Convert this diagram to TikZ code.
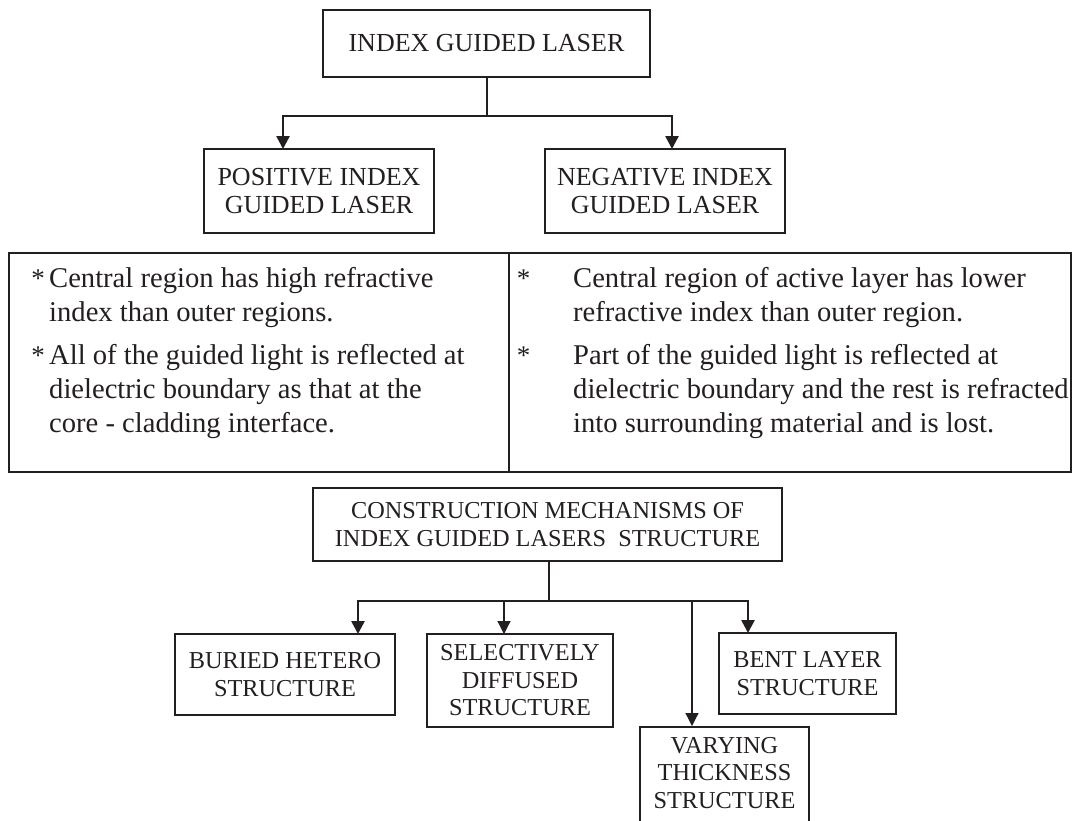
\documentclass[tikz,border=0pt]{standalone}
\usepackage{fontspec}
\setmainfont{Liberation Serif}
\usetikzlibrary{arrows.meta}
\definecolor{ink}{HTML}{231F20}
\begin{document}
\begin{tikzpicture}[x=1pt,y=-1pt,
  box/.style={draw=ink, line width=2pt, rectangle, inner sep=0pt, align=center, text=ink},
  topfont/.style={font=\fontsize{26}{27.5}\selectfont},
  lowfont/.style={font=\fontsize{24.3}{27.5}\selectfont},
  conn/.style={line width=2.6pt, draw=ink},
  thinconn/.style={line width=1.2pt, draw=ink},
  tip/.style={-{Triangle[length=13pt,width=13pt]}},
  cell/.style={draw=ink, line width=2pt, rectangle, inner sep=0pt},
  bodytext/.style={font=\fontsize{28.6}{34}\selectfont, anchor=base west, inner sep=0pt, text=ink},
  star/.style={font=\fontsize{27}{34}\selectfont, anchor=base, inner sep=0pt, text=ink}
]
\clip (0,0) rectangle (1074,820);
\fill[white] (0,0) rectangle (1074,820);

% upper tree
\node[box,topfont,minimum width=327pt,minimum height=67pt] (top) at (486.5,43.5) {INDEX GUIDED LASER};
\node[box,topfont,minimum width=230pt,minimum height=84pt] (pos) at (319,191) {POSITIVE INDEX\\GUIDED LASER};
\node[box,topfont,minimum width=240pt,minimum height=84pt] (neg) at (665,191) {NEGATIVE INDEX\\GUIDED LASER};

\coordinate (j1) at (487,116);
\coordinate (posin) at (283,149);
\coordinate (negin) at (672,149);
\draw[conn] (top.south -| j1) -- (j1);
\draw[conn,tip] (j1) -| (posin);
\draw[conn,tip] (j1) -| (negin);

% comparison table
\node[cell,minimum width=500pt,minimum height=219pt] (lcell) at (259,362.5) {};
\node[cell,minimum width=562pt,minimum height=219pt] (rcell) at (790,362.5) {};

\node[star] (ls1) at (38,287) {*};
\node[bodytext] (l1) at (49,287) {Central region has high refractive};
\node[bodytext] (l2) at (49,321) {index than outer regions.};
\node[star] (ls2) at (38,364) {*};
\node[bodytext] (l3) at (49,364) {All of the guided light is reflected at};
\node[bodytext] (l4) at (49,398) {dielectric boundary as that at the};
\node[bodytext] (l5) at (49,432) {core - cladding interface.};

\node[star] (rs1) at (523.5,287) {*};
\node[bodytext] (r1) at (573,287) {Central region of active layer has lower};
\node[bodytext] (r2) at (573,321) {refractive index than outer region.};
\node[star] (rs2) at (523.5,364) {*};
\node[bodytext] (r3) at (573,364) {Part of the guided light is reflected at};
\node[bodytext] (r4) at (573,398) {dielectric boundary and the rest is refracted};
\node[bodytext] (r5) at (573,432) {into surrounding material and is lost.};

% lower tree
\node[box,lowfont,minimum width=469pt,minimum height=73pt] (cm) at (547.5,524.5) {CONSTRUCTION MECHANISMS OF\\INDEX GUIDED LASERS\ \ STRUCTURE};
\node[box,lowfont,minimum width=220pt,minimum height=81pt] (bh) at (285,674.5) {BURIED HETERO\\STRUCTURE};
\node[box,lowfont,minimum width=186pt,minimum height=93pt] (sd) at (520,680.5) {SELECTIVELY\\DIFFUSED\\STRUCTURE};
\node[box,lowfont,minimum width=177pt,minimum height=81pt] (bl) at (807.5,673.5) {BENT LAYER\\STRUCTURE};
\node[box,minimum width=169pt,minimum height=120pt,anchor=north] (vt) at (724.5,726) {};
\node[lowfont,align=center,text=ink,inner sep=0pt] (vtt) at (724.5,773) {VARYING\\THICKNESS\\STRUCTURE};

\coordinate (j2) at (549,601);
\coordinate (bhin) at (358,634);
\coordinate (sdin) at (504,634);
\coordinate (vtin) at (692,726);
\coordinate (blin) at (748,633);
\draw[conn] (cm.south -| j2) -- (j2);
\draw[conn,tip] (j2) -| (bhin);
\draw[conn,tip] (j2) -| (blin);
\draw[thinconn,tip] (sdin |- j2) -- (sdin);
\draw[thinconn,tip] (vtin |- j2) -- (vtin);
\end{tikzpicture}
\end{document}
